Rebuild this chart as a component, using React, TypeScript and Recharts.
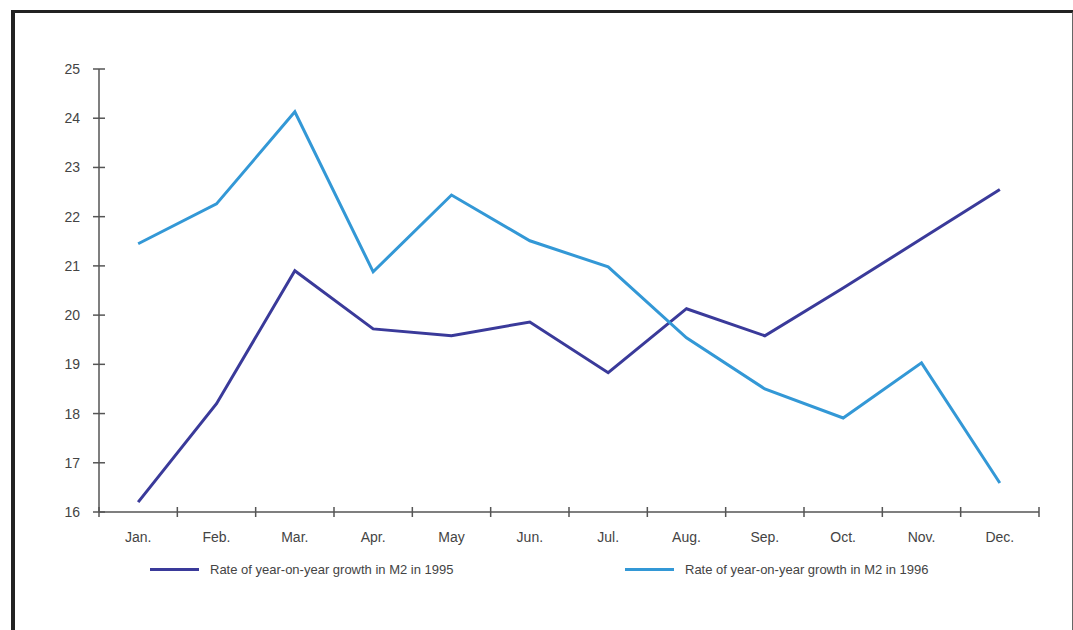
import React from 'react';
import { LineChart, Line, XAxis, YAxis } from 'recharts';

const months = ['Jan.', 'Feb.', 'Mar.', 'Apr.', 'May', 'Jun.', 'Jul.', 'Aug.', 'Sep.', 'Oct.', 'Nov.', 'Dec.'];
const growth1995 = [16.2, 18.2, 20.9, 19.72, 19.58, 19.86, 18.83, 20.13, 19.58, 20.55, 21.55, 22.55];
const growth1996 = [21.45, 22.26, 24.13, 20.88, 22.44, 21.51, 20.98, 19.54, 18.5, 17.91, 19.03, 16.59];
const yTicks = [16, 17, 18, 19, 20, 21, 22, 23, 24, 25];

const seriesNames = [
    'Rate of year-on-year growth in M2 in 1995',
    'Rate of year-on-year growth in M2 in 1996',
];
const seriesColors = ['#3a3a9a', '#3398d6'];

const data = months.map((m, i) => ({ month: m, y1995: growth1995[i], y1996: growth1996[i] }));

const W = 1073;
const H = 630;
const PLOT_LEFT = 99;
const PLOT_RIGHT = 1039;
const BAND = (PLOT_RIGHT - PLOT_LEFT) / months.length;
const FONT = '"Liberation Sans", Arial, Helvetica, sans-serif';
const AXIS = '#555';
const TEXT = '#444';

const YTick = ({ x, y, payload }: any) => (
    <g>
        <line x1={x - 6} x2={x + 6} y1={y} y2={y} stroke={AXIS} strokeWidth={1.5} />
        <text x={x - 19} y={y} dy={5} textAnchor="end" fontSize={14} fill={TEXT} fontFamily={FONT}>
            {payload.value}
        </text>
    </g>
);

const XTick = ({ x, y, payload, index }: any) => (
    <g>
        <line x1={x - BAND / 2} x2={x - BAND / 2} y1={y - 5} y2={y + 5} stroke={AXIS} strokeWidth={1.5} />
        {index === months.length - 1 && (
            <line x1={x + BAND / 2} x2={x + BAND / 2} y1={y - 5} y2={y + 5} stroke={AXIS} strokeWidth={1.5} />
        )}
        <text x={x} y={y + 30} textAnchor="middle" fontSize={14} fill={TEXT} fontFamily={FONT}>
            {payload.value}
        </text>
    </g>
);

const legendPos = [150, 625];

export default function App() {
    return (
        <div style={{ position: 'absolute', left: 0, top: 0, width: W, height: H, background: '#fff', overflow: 'hidden' }}>
            {/* outer frame */}
            <div
                style={{
                    position: 'absolute',
                    left: 11,
                    top: 10,
                    width: 1057,
                    height: 640,
                    borderTop: '3px solid #222',
                    borderLeft: '4px solid #222',
                    borderRight: '2px solid #666',
                }}
            />
            <div style={{ position: 'absolute', left: 0, top: 0 }}>
                <LineChart
                    width={W}
                    height={H}
                    data={data}
                    margin={{ top: 69, right: W - PLOT_RIGHT, left: PLOT_LEFT - 60, bottom: H - 512 - 30 }}
                >
                    <XAxis
                        dataKey="month"
                        scale="band"
                        height={30}
                        stroke={AXIS}
                        strokeWidth={1.5}
                        tickLine={false}
                        tickSize={0}
                        tickMargin={0}
                        interval={0}
                        tick={<XTick />}
                    />
                    <YAxis
                        type="number"
                        domain={[16, 25]}
                        ticks={yTicks}
                        width={60}
                        stroke={AXIS}
                        strokeWidth={1.5}
                        tickLine={false}
                        tickSize={0}
                        tickMargin={0}
                        interval={0}
                        tick={<YTick />}
                    />
                    <Line
                        type="linear"
                        dataKey="y1995"
                        name={seriesNames[0]}
                        stroke={seriesColors[0]}
                        strokeWidth={3}
                        dot={false}
                        isAnimationActive={false}
                    />
                    <Line
                        type="linear"
                        dataKey="y1996"
                        name={seriesNames[1]}
                        stroke={seriesColors[1]}
                        strokeWidth={3}
                        dot={false}
                        isAnimationActive={false}
                    />
                </LineChart>
            </div>
            {seriesNames.map((name, i) => (
                <div
                    key={name}
                    style={{
                        position: 'absolute',
                        left: legendPos[i],
                        top: 562,
                        display: 'flex',
                        alignItems: 'center',
                        fontFamily: FONT,
                        fontSize: 13,
                        color: TEXT,
                        whiteSpace: 'nowrap',
                    }}
                >
                    <span style={{ display: 'inline-block', width: 49, height: 3.5, background: seriesColors[i], marginRight: 11 }} />
                    {name}
                </div>
            ))}
        </div>
    );
}
